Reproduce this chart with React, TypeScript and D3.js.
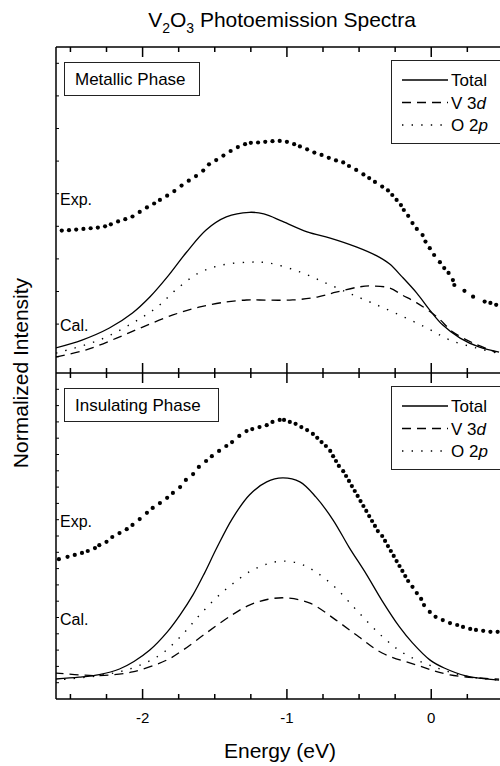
// V2O3 photoemission spectra: two stacked panels (metallic / insulating)
import { useRef, useEffect } from 'react'
import * as d3 from 'd3'

type Pt = [number, number]

// [energy eV, normalized intensity 0..10]
const metalExp: Pt[] = [
  [-2.56, 4.37], [-2.51, 4.38], [-2.46, 4.40], [-2.41, 4.42], [-2.36, 4.44], [-2.31, 4.46],
  [-2.26, 4.50], [-2.22, 4.56], [-2.17, 4.65], [-2.12, 4.72], [-2.07, 4.80], [-2.02, 4.94],
  [-1.97, 5.08], [-1.92, 5.20], [-1.88, 5.31], [-1.83, 5.44], [-1.78, 5.58], [-1.73, 5.75],
  [-1.68, 5.90], [-1.63, 6.04], [-1.58, 6.21], [-1.54, 6.40], [-1.49, 6.53], [-1.44, 6.67],
  [-1.39, 6.81], [-1.34, 6.93], [-1.29, 7.02], [-1.25, 7.06], [-1.20, 7.07], [-1.15, 7.09],
  [-1.10, 7.11], [-1.05, 7.12], [-1.00, 7.09], [-0.95, 7.02], [-0.91, 6.95], [-0.86, 6.86],
  [-0.81, 6.76], [-0.76, 6.69], [-0.71, 6.60], [-0.66, 6.52], [-0.61, 6.46], [-0.57, 6.35],
  [-0.52, 6.23], [-0.47, 6.09], [-0.43, 5.98], [-0.39, 5.86], [-0.34, 5.72], [-0.30, 5.60],
  [-0.27, 5.46], [-0.24, 5.31], [-0.21, 5.15], [-0.19, 5.00], [-0.16, 4.82], [-0.13, 4.60],
  [-0.10, 4.42], [-0.06, 4.23], [-0.04, 4.03], [-0.01, 3.83], [0.02, 3.62], [0.06, 3.40],
  [0.09, 3.22], [0.12, 3.07], [0.15, 2.85], [0.16, 2.70], [0.23, 2.52], [0.29, 2.34],
  [0.37, 2.19], [0.41, 2.15], [0.45, 2.09],
]
const metalTotal: Pt[] = [
  [-2.61, 0.76], [-2.42, 1.01], [-2.23, 1.38], [-2.07, 1.84], [-1.95, 2.33], [-1.83, 2.94],
  [-1.70, 3.68], [-1.56, 4.39], [-1.42, 4.79], [-1.26, 4.93], [-1.16, 4.88], [-1.03, 4.65],
  [-0.86, 4.33], [-0.70, 4.14], [-0.52, 3.87], [-0.38, 3.60], [-0.29, 3.35], [-0.20, 2.94],
  [-0.10, 2.45], [-0.01, 1.93], [0.08, 1.47], [0.20, 1.07], [0.33, 0.80], [0.47, 0.64],
]
const metalO2p: Pt[] = [
  [-2.60, 0.61], [-2.30, 1.01], [-2.07, 1.53], [-1.90, 2.02], [-1.77, 2.55], [-1.61, 3.07],
  [-1.45, 3.31], [-1.26, 3.40], [-1.12, 3.37], [-0.91, 3.10], [-0.73, 2.76], [-0.57, 2.45],
  [-0.41, 2.15], [-0.22, 1.78], [-0.03, 1.38], [0.13, 1.01], [0.31, 0.77], [0.46, 0.61],
]
const metalV3d: Pt[] = [
  [-2.60, 0.49], [-2.39, 0.71], [-2.18, 1.07], [-2.00, 1.41], [-1.79, 1.78], [-1.61, 2.02],
  [-1.42, 2.18], [-1.28, 2.24], [-1.19, 2.24], [-0.96, 2.24], [-0.79, 2.33], [-0.66, 2.48],
  [-0.50, 2.64], [-0.41, 2.67], [-0.29, 2.61], [-0.20, 2.39], [-0.10, 2.15], [0.04, 1.72],
  [0.15, 1.26], [0.29, 0.92], [0.45, 0.64],
]

const insulExp: Pt[] = [
  [-2.58, 4.29], [-2.52, 4.36], [-2.47, 4.42], [-2.42, 4.48], [-2.38, 4.54], [-2.33, 4.63],
  [-2.30, 4.72], [-2.25, 4.82], [-2.21, 4.97], [-2.16, 5.09], [-2.11, 5.21], [-2.07, 5.34],
  [-2.02, 5.52], [-1.97, 5.71], [-1.93, 5.86], [-1.88, 6.01], [-1.83, 6.17], [-1.79, 6.32],
  [-1.74, 6.50], [-1.70, 6.72], [-1.65, 6.90], [-1.61, 7.12], [-1.56, 7.30], [-1.52, 7.45],
  [-1.47, 7.61], [-1.42, 7.76], [-1.38, 7.88], [-1.33, 8.07], [-1.28, 8.22], [-1.24, 8.28],
  [-1.19, 8.34], [-1.14, 8.40], [-1.10, 8.50], [-1.05, 8.56], [-1.02, 8.56], [-0.98, 8.50],
  [-0.94, 8.44], [-0.90, 8.34], [-0.86, 8.25], [-0.82, 8.13], [-0.79, 8.01], [-0.76, 7.88],
  [-0.73, 7.76], [-0.70, 7.61], [-0.68, 7.45], [-0.66, 7.30], [-0.64, 7.15], [-0.61, 6.99],
  [-0.59, 6.84], [-0.57, 6.69], [-0.55, 6.53], [-0.53, 6.38], [-0.51, 6.23], [-0.49, 6.07],
  [-0.47, 5.92], [-0.45, 5.77], [-0.43, 5.61], [-0.41, 5.46], [-0.39, 5.31], [-0.37, 5.15],
  [-0.34, 5.00], [-0.32, 4.85], [-0.30, 4.69], [-0.28, 4.54], [-0.26, 4.39], [-0.24, 4.23],
  [-0.22, 4.08], [-0.20, 3.93], [-0.18, 3.77], [-0.16, 3.62], [-0.13, 3.44], [-0.10, 3.25],
  [-0.07, 3.07], [-0.05, 2.88], [-0.01, 2.67], [0.03, 2.52], [0.08, 2.42], [0.13, 2.33],
  [0.18, 2.27], [0.22, 2.21], [0.27, 2.15], [0.31, 2.12], [0.36, 2.09], [0.41, 2.06],
  [0.46, 2.06],
]
const insulTotal: Pt[] = [
  [-2.61, 0.61], [-2.44, 0.67], [-2.30, 0.75], [-2.16, 0.92], [-2.06, 1.15], [-1.95, 1.50],
  [-1.83, 2.05], [-1.74, 2.58], [-1.65, 3.20], [-1.57, 3.87], [-1.49, 4.60], [-1.38, 5.52],
  [-1.26, 6.26], [-1.14, 6.66], [-1.03, 6.78], [-0.91, 6.66], [-0.80, 6.20], [-0.68, 5.49],
  [-0.57, 4.66], [-0.45, 3.83], [-0.34, 3.01], [-0.22, 2.21], [-0.13, 1.72], [-0.01, 1.20],
  [0.09, 0.95], [0.24, 0.71], [0.47, 0.58],
]
const insulO2p: Pt[] = [
  [-2.61, 0.58], [-2.30, 0.72], [-2.07, 0.95], [-1.88, 1.35], [-1.74, 1.90], [-1.61, 2.55],
  [-1.49, 3.10], [-1.38, 3.52], [-1.26, 3.90], [-1.14, 4.14], [-1.03, 4.23], [-0.91, 4.15],
  [-0.80, 3.90], [-0.66, 3.40], [-0.50, 2.64], [-0.34, 1.92], [-0.19, 1.40], [0.01, 1.00],
  [0.24, 0.70], [0.47, 0.58],
]
const insulV3d: Pt[] = [
  [-2.61, 0.80], [-2.44, 0.74], [-2.30, 0.72], [-2.07, 0.83], [-1.83, 1.20], [-1.72, 1.50],
  [-1.56, 2.02], [-1.38, 2.58], [-1.26, 2.88], [-1.13, 3.06], [-1.00, 3.10], [-0.84, 2.94],
  [-0.66, 2.42], [-0.50, 1.90], [-0.34, 1.41], [-0.10, 1.04], [0.13, 0.74], [0.47, 0.61],
]

const majorTicks = [-2, -1, 0]
const minorTicks = [-2.5, -2.25, -1.75, -1.5, -1.25, -0.75, -0.5, -0.25, 0.25]
const topYTicks = [0.5, 1.5, 2.5, 3.5, 4.5, 5.5, 6.5, 7.5, 8.5, 9.5]
const botYTicks = [0.5, 1, 1.5, 2, 2.5, 3, 3.5, 4, 4.5, 5, 5.5, 6, 6.5, 7, 7.5, 8, 8.5, 9, 9.5]
const legendItems = [
  { name: 'Total', orb: '', dash: null },
  { name: 'V 3', orb: 'd', dash: '9,6' },
  { name: 'O 2', orb: 'p', dash: '1.4,8.2' },
]

const FONT = 'Liberation Sans, Arial, Helvetica, sans-serif'

export default function App() {
  const svgRef = useRef<SVGSVGElement>(null)

  useEffect(() => {
    const W = 500, H = 766
    const left = 56, right = 503.4
    const top = 47, mid = 373, bottom = 699

    const svg = d3.select(svgRef.current).attr('width', W).attr('height', H)
    svg.selectAll('*').remove()

    const x = d3.scaleLinear().domain([-2.6, 0.5]).range([left, right])

    svg.append('defs').append('clipPath').attr('id', 'plotclip')
      .append('rect').attr('x', left).attr('y', top).attr('width', right - left).attr('height', bottom - top)

    const panels = [
      { y0: mid, y1: top, label: 'Metallic Phase', boxW: 135, exp: metalExp, total: metalTotal, v3d: metalV3d, o2p: metalO2p, yTicks: topYTicks, expLbl: 205, calLbl: 331 },
      { y0: bottom, y1: mid, label: 'Insulating Phase', boxW: 154, exp: insulExp, total: insulTotal, v3d: insulV3d, o2p: insulO2p, yTicks: botYTicks, expLbl: 527, calLbl: 625 },
    ]

    panels.forEach(p => {
      const y = d3.scaleLinear().domain([0, 10]).range([p.y0, p.y1])
      const line = d3.line<Pt>().x(d => x(d[0])).y(d => y(d[1])).curve(d3.curveCatmullRom.alpha(0.5))
      const g = svg.append('g').attr('clip-path', 'url(#plotclip)')

      g.append('path').attr('d', line(p.total)).attr('fill', 'none').attr('stroke', '#000').attr('stroke-width', 1.3)
      g.append('path').attr('d', line(p.v3d)).attr('fill', 'none').attr('stroke', '#000').attr('stroke-width', 1.3)
        .attr('stroke-dasharray', '9,6')
      g.append('path').attr('d', line(p.o2p)).attr('fill', 'none').attr('stroke', '#000').attr('stroke-width', 1.4)
        .attr('stroke-dasharray', '1.4,8.2')

      g.selectAll('circle.exp')
        .data(p.exp)
        .join('circle')
        .attr('class', 'exp')
        .attr('cx', d => x(d[0]))
        .attr('cy', d => y(d[1]))
        .attr('r', 2.1)
        .attr('fill', '#000')

      // left axis minor ticks (inward)
      svg.append('g').selectAll('line')
        .data(p.yTicks)
        .join('line')
        .attr('x1', left).attr('x2', left + 3)
        .attr('y1', d => y(d)).attr('y2', d => y(d))
        .attr('stroke', '#000').attr('stroke-width', 1)

      // phase label box
      const ly = p.y1 + 15
      svg.append('rect').attr('x', 64.5).attr('y', ly + 0.5).attr('width', p.boxW).attr('height', 33)
        .attr('fill', '#fff').attr('stroke', '#222').attr('stroke-width', 1)
      svg.append('text').attr('x', 75).attr('y', ly + 23).attr('font-family', FONT).attr('font-size', 17)
        .text(p.label)

      // legend box
      const lg = svg.append('g').attr('transform', `translate(0, ${p.y1})`)
      lg.append('rect').attr('x', 391.5).attr('y', 13.5).attr('width', 130).attr('height', 83)
        .attr('fill', '#fff').attr('stroke', '#222').attr('stroke-width', 1)
      legendItems.forEach((it, i) => {
        const cy = 33 + i * 22.5
        const l = lg.append('line').attr('x1', 402).attr('x2', 448).attr('y1', cy).attr('y2', cy)
          .attr('stroke', '#000').attr('stroke-width', 1.3)
        if (it.dash) l.attr('stroke-dasharray', it.dash)
        const t = lg.append('text').attr('x', 451).attr('y', cy + 6).attr('font-family', FONT).attr('font-size', 17)
        t.append('tspan').text(it.name)
        if (it.orb) t.append('tspan').attr('font-style', 'italic').text(it.orb)
      })

      svg.append('text').attr('x', 60).attr('y', p.expLbl).attr('font-family', FONT).attr('font-size', 16).text('Exp.')
      svg.append('text').attr('x', 60).attr('y', p.calLbl).attr('font-family', FONT).attr('font-size', 16).text('Cal.')
    })

    // frame lines
    const ax = svg.append('g').attr('stroke', '#000').attr('stroke-width', 1.5)
    ax.append('line').attr('x1', left).attr('x2', left).attr('y1', top).attr('y2', bottom)
    ;[top, mid, bottom].forEach(yy => {
      ax.append('line').attr('x1', left).attr('x2', W).attr('y1', yy).attr('y2', yy)
    })

    // x ticks: top (down), middle (both), bottom (up)
    const tickRows = [
      { yy: top, up: 0, down: 1 },
      { yy: mid, up: 1, down: 1 },
      { yy: bottom, up: 1, down: 0 },
    ]
    tickRows.forEach(r => {
      svg.append('g').selectAll('line')
        .data(majorTicks)
        .join('line')
        .attr('x1', d => x(d)).attr('x2', d => x(d))
        .attr('y1', r.yy - 10 * r.up).attr('y2', r.yy + 10 * r.down)
        .attr('stroke', '#000').attr('stroke-width', 1.5)
      svg.append('g').selectAll('line')
        .data(minorTicks)
        .join('line')
        .attr('x1', d => x(d)).attr('x2', d => x(d))
        .attr('y1', r.yy - 5 * r.up).attr('y2', r.yy + 5 * r.down)
        .attr('stroke', '#000').attr('stroke-width', 1.5)
    })

    svg.append('g').selectAll('text')
      .data(majorTicks)
      .join('text')
      .attr('x', d => x(d))
      .attr('y', 723)
      .attr('text-anchor', 'middle')
      .attr('font-family', FONT)
      .attr('font-size', 15)
      .text(d => String(d))

    svg.append('text').attr('x', 280).attr('y', 758).attr('text-anchor', 'middle')
      .attr('font-family', FONT).attr('font-size', 21).text('Energy (eV)')

    svg.append('text').attr('transform', 'translate(28, 373) rotate(-90)').attr('text-anchor', 'middle')
      .attr('font-family', FONT).attr('font-size', 21).text('Normalized Intensity')

    const title = svg.append('text').attr('x', 282).attr('y', 27).attr('text-anchor', 'middle')
      .attr('font-family', FONT).attr('font-size', 21)
    title.append('tspan').text('V')
    title.append('tspan').attr('font-size', 14).attr('dy', 6).text('2')
    title.append('tspan').attr('dy', -6).text('O')
    title.append('tspan').attr('font-size', 14).attr('dy', 6).text('3')
    title.append('tspan').attr('dy', -6).text(' Photoemission Spectra')
  }, [])

  return (
    <svg ref={svgRef} style={{ position: 'absolute', left: 0, top: 0, display: 'block', background: '#fff' }} />
  )
}
